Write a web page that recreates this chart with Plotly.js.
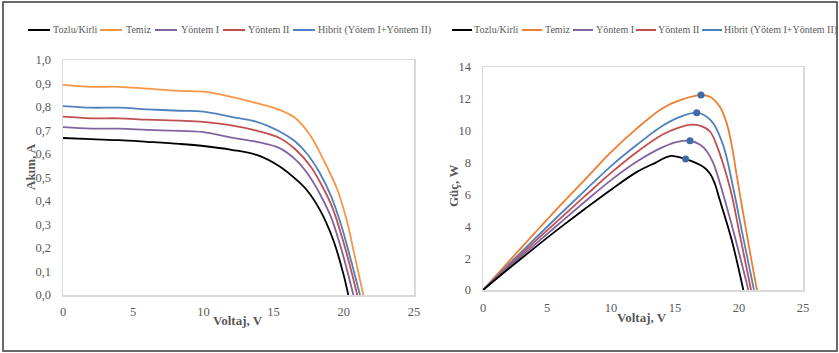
<!DOCTYPE html>
<html>
<head>
<meta charset="utf-8">
<script src="https://cdn.plot.ly/plotly-3.0.1.min.js"></script>
<style>
html,body{margin:0;padding:0;background:#fff;}
#chart{width:839px;height:353px;}
</style>
</head>
<body>
<div id="chart"></div>
<script>
// ---------- DATA ----------
const seriesNames = ['Tozlu/Kirli', 'Temiz', 'Yöntem I', 'Yöntem II', 'Hibrit (Yötem I+Yöntem II)'];

const xTickVals = [0, 5, 10, 15, 20, 25];
const xTickText = ['0', '5', '10', '15', '20', '25'];
const iTickVals = [0, 0.1, 0.2, 0.3, 0.4, 0.5, 0.6, 0.7, 0.8, 0.9, 1.0];
const iTickText = ['0,0', '0,1', '0,2', '0,3', '0,4', '0,5', '0,6', '0,7', '0,8', '0,9', '1,0'];
const pTickVals = [0, 2, 4, 6, 8, 10, 12, 14];
const pTickText = ['0', '2', '4', '6', '8', '10', '12', '14'];

// I-V curves (Voltaj V, Akım A)
const ivTozluV  = [0, 2, 4, 6, 8.3, 10, 12, 13.8, 15.46, 16.5, 17.36, 18.3, 19.25, 19.96, 20.32];
const ivTozluI  = [0.668, 0.663, 0.659, 0.652, 0.643, 0.634, 0.618, 0.596, 0.546, 0.497, 0.447, 0.362, 0.234, 0.092, 0];
const ivTemizV  = [0, 2, 4, 6, 8.3, 10, 11.9, 13.8, 15.46, 16.5, 17.6, 18.6, 19.55, 20.2, 20.8, 21.39];
const ivTemizI  = [0.894, 0.886, 0.886, 0.878, 0.869, 0.865, 0.844, 0.816, 0.787, 0.755, 0.68, 0.57, 0.447, 0.32, 0.16, 0];
const ivY1V     = [0, 2, 4, 6, 8.3, 10, 11.9, 13.8, 15.46, 16.6, 17.5, 18.3, 19.1, 19.8, 20.3, 20.68];
const ivY1I     = [0.714, 0.708, 0.708, 0.703, 0.698, 0.693, 0.671, 0.652, 0.624, 0.574, 0.51, 0.43, 0.33, 0.2, 0.09, 0];
const ivY2V     = [0, 2, 4, 6, 8.3, 10, 11.9, 13.8, 15.46, 16.6, 17.6, 18.4, 19.2, 19.9, 20.5, 20.96];
const ivY2I     = [0.759, 0.752, 0.752, 0.746, 0.742, 0.737, 0.723, 0.699, 0.667, 0.617, 0.55, 0.47, 0.37, 0.24, 0.11, 0];
const ivHibV    = [0, 2, 4, 6, 8.3, 10, 11.9, 13.8, 15.46, 16.5, 17.4, 18.3, 19.1, 19.8, 20.5, 21.15];
const ivHibI    = [0.804, 0.797, 0.797, 0.79, 0.784, 0.78, 0.759, 0.737, 0.695, 0.655, 0.6, 0.518, 0.42, 0.3, 0.15, 0];

// P-V curves (Voltaj V, Güç W)
const pvTozluV  = [0, 2, 4, 6, 8, 10, 12, 13.5, 14.6, 15.83, 17.2, 17.73, 18.1, 18.5, 19.43, 20.34];
const pvTozluP  = [0, 1.33, 2.63, 3.9, 5.12, 6.3, 7.4, 8.0, 8.41, 8.22, 7.74, 7.32, 6.7, 5.65, 3.14, 0];
const pvTemizV  = [0, 2, 4, 6, 8, 10, 12, 14, 15.5, 17.03, 17.73, 18.5, 19.04, 19.43, 19.8, 20.2, 20.6, 21.0, 21.4];
const pvTemizP  = [0, 1.78, 3.54, 5.28, 6.96, 8.65, 10.13, 11.4, 11.95, 12.24, 12.13, 11.5, 10.46, 9.1, 7.3, 5.4, 3.55, 1.75, 0];
const pvY1V     = [0, 2, 4, 6, 8, 10, 12, 14, 15.2, 16.17, 17, 17.5, 18, 19.04, 19.95, 20.73];
const pvY1P     = [0, 1.42, 2.82, 4.2, 5.57, 6.9, 8.05, 8.95, 9.3, 9.37, 9.1, 8.7, 7.95, 5.23, 2.5, 0];
const pvY2V     = [0, 2, 4, 6, 8, 10, 12, 14, 15.3, 16.3, 17.0, 17.73, 18.25, 19.3, 20.08, 20.94];
const pvY2P     = [0, 1.5, 3.0, 4.47, 5.92, 7.35, 8.65, 9.75, 10.2, 10.38, 10.3, 9.95, 9.1, 6.4, 3.4, 0];
const pvHibV    = [0, 2, 4, 6, 8, 10, 12, 14, 15.5, 16.7, 17.47, 18.0, 18.8, 19.55, 20.3, 21.17];
const pvHibP    = [0, 1.6, 3.18, 4.74, 6.27, 7.78, 9.1, 10.3, 10.9, 11.13, 10.88, 10.46, 9.0, 6.4, 3.4, 0];

// Maximum power point markers
const mppV = [15.83, 17.03, 16.17, 16.7];
const mppP = [8.22, 12.24, 9.37, 11.13];

// ---------- STYLE / LAYOUT ----------
const W = 839, H = 353;
const fx = px => px / W;
const fy = py => 1 - py / H;
const leftColors  = ['#000000', '#F79646', '#8064A2', '#C0504D', '#4F81BD'];
const rightColors = ['#000000', '#ED7D31', '#8064A2', '#C0504D', '#4F81BD'];
const FONT = '"Liberation Serif", "Times New Roman", serif';
const TICKC = '#595959';

const ivX = [ivTozluV, ivTemizV, ivY1V, ivY2V, ivHibV];
const ivY = [ivTozluI, ivTemizI, ivY1I, ivY2I, ivHibI];
const pvX = [pvTozluV, pvTemizV, pvY1V, pvY2V, pvHibV];
const pvY = [pvTozluP, pvTemizP, pvY1P, pvY2P, pvHibP];
const drawOrder = [1, 4, 3, 2, 0];

const traces = [];
drawOrder.forEach(i => {
  traces.push({
    x: ivX[i], y: ivY[i], name: seriesNames[i], type: 'scatter', mode: 'lines',
    xaxis: 'x', yaxis: 'y', showlegend: false,
    line: {color: leftColors[i], width: 1.8, shape: 'spline', smoothing: 1}
  });
});
drawOrder.forEach(i => {
  traces.push({
    x: pvX[i], y: pvY[i], name: seriesNames[i], type: 'scatter', mode: 'lines',
    xaxis: 'x2', yaxis: 'y2', showlegend: false,
    line: {color: rightColors[i], width: 1.8, shape: 'spline', smoothing: 1}
  });
});
traces.push({
  x: mppV, y: mppP, name: 'MPP', type: 'scatter', mode: 'markers',
  xaxis: 'x2', yaxis: 'y2', showlegend: false,
  marker: {color: '#3F6BA8', size: 7, symbol: 'circle'}
});

// legend geometry (pixels): line sample start/end, text start
const legLeft  = {lines: [[28, 50], [100, 122], [155, 177], [223, 245], [293, 315]], text: [52, 125, 180, 247, 317]};
const legRight = {lines: [[452, 472], [522, 542], [573, 593], [636, 656], [702, 722]], text: [473, 544, 595, 657, 723]};
const legY = 30;

const shapes = [
  {type: 'rect', xref: 'paper', yref: 'paper', x0: fx(3), x1: fx(837), y0: fy(351), y1: fy(2),
   line: {color: '#3a3a3a', width: 1.5}, fillcolor: 'rgba(0,0,0,0)'}
];
const annotations = [];
function addLegend(leg, colors) {
  seriesNames.forEach((nm, i) => {
    shapes.push({type: 'line', xref: 'paper', yref: 'paper',
      x0: fx(leg.lines[i][0]), x1: fx(leg.lines[i][1]), y0: fy(legY), y1: fy(legY),
      line: {color: colors[i], width: 2}});
    annotations.push({xref: 'paper', yref: 'paper', x: fx(leg.text[i]), y: fy(legY),
      xanchor: 'left', yanchor: 'middle', showarrow: false, text: nm, borderpad: 0,
      font: {family: FONT, size: 10, color: TICKC}});
  });
}
addLegend(legLeft, leftColors);
addLegend(legRight, rightColors);

const titleFont = {family: FONT, size: 13, color: '#595959'};
annotations.push(
  {xref: 'paper', yref: 'paper', x: fx(30), y: fy(167), text: '<b>Akım, A</b>', textangle: -90,
   showarrow: false, xanchor: 'center', yanchor: 'middle', font: titleFont},
  {xref: 'paper', yref: 'paper', x: fx(238), y: fy(320), text: '<b>Voltaj, V</b>',
   showarrow: false, xanchor: 'center', yanchor: 'middle', font: titleFont},
  {xref: 'paper', yref: 'paper', x: fx(453), y: fy(186), text: '<b>Güç, W</b>', textangle: -90,
   showarrow: false, xanchor: 'center', yanchor: 'middle', font: titleFont},
  {xref: 'paper', yref: 'paper', x: fx(642), y: fy(317), text: '<b>Voltaj, V</b>',
   showarrow: false, xanchor: 'center', yanchor: 'middle', font: titleFont}
);

const axBase = {
  showgrid: false, zeroline: false, showline: true, mirror: true,
  linecolor: '#D9D9D9', linewidth: 1.5, ticks: '',
  tickfont: {family: FONT, size: 12.5, color: TICKC}, fixedrange: true
};

const layout = {
  width: W, height: H, margin: {l: 0, r: 0, t: 0, b: 0, pad: 0},
  font: {family: FONT},
  paper_bgcolor: '#ffffff', plot_bgcolor: '#ffffff', showlegend: false,
  xaxis: Object.assign({}, axBase, {domain: [fx(63), fx(414)], range: [0, 25], anchor: 'y',
    tickvals: xTickVals, ticktext: xTickText, ticklabelstandoff: 4}),
  yaxis: Object.assign({}, axBase, {domain: [fy(295), fy(60)], range: [0, 1], anchor: 'x',
    tickvals: iTickVals, ticktext: iTickText, ticklabelstandoff: 8}),
  xaxis2: Object.assign({}, axBase, {domain: [fx(483), fx(803)], range: [0, 25], anchor: 'y2',
    tickvals: xTickVals, ticktext: xTickText, ticklabelstandoff: 5}),
  yaxis2: Object.assign({}, axBase, {domain: [fy(290), fy(67)], range: [0, 14], anchor: 'x2',
    tickvals: pTickVals, ticktext: pTickText, ticklabelstandoff: 8}),
  shapes: shapes,
  annotations: annotations
};

Plotly.newPlot('chart', traces, layout, {displayModeBar: false, staticPlot: true});
</script>
</body>
</html>
